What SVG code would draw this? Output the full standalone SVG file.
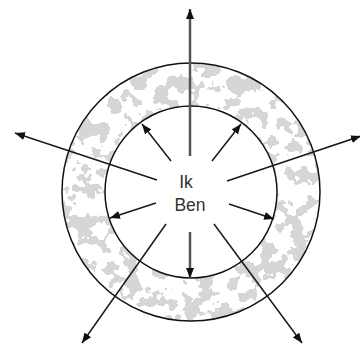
<svg xmlns="http://www.w3.org/2000/svg" width="360" height="347" viewBox="0 0 360 347">
<style>
.ln{stroke:#1a1a1a;stroke-width:1.5;fill:none}
.gl{stroke:#555;stroke-width:2.5;fill:none}
.ring{fill:none;stroke:#111;stroke-width:1.5}
.lbl{font-family:"Liberation Sans",Arial,sans-serif;font-size:17.5px;fill:#333;text-anchor:middle}
</style>
<defs>
<marker id="ah" markerWidth="10" markerHeight="8" refX="10" refY="4" orient="auto" markerUnits="userSpaceOnUse"><path d="M0,0 L10,4 L0,8 Z" fill="#111"/></marker>
<clipPath id="annulus"><path clip-rule="evenodd" fill-rule="evenodd" d="M62,192 a129,129 0 1,0 258,0 a129,129 0 1,0 -258,0 Z M105,192 a86,86 0 1,0 172,0 a86,86 0 1,0 -172,0 Z"/></clipPath>
<filter id="speck" x="0" y="0" width="100%" height="100%" filterUnits="userSpaceOnUse">
<feTurbulence type="fractalNoise" baseFrequency="0.065" numOctaves="3" seed="7" result="n"/>
<feColorMatrix in="n" type="matrix" values="0 0 0 0 0.67 0 0 0 0 0.67 0 0 0 0 0.67 1.6 0 0 0 -0.3"/>
<feComponentTransfer><feFuncA type="discrete" tableValues="0 0 0 0 0 0 0 0 0 0 0 1 1 1 1 1 1 1 1 1"/></feComponentTransfer>
</filter>
</defs>
<rect width="360" height="347" fill="#fff"/>
<g id="ring">
<g clip-path="url(#annulus)"><rect x="0" y="0" width="360" height="347" filter="url(#speck)"/></g>
<circle class="ring" cx="191" cy="192" r="129"/>
<circle class="ring" cx="191" cy="192" r="86"/>
</g>
<g id="connectors">
<line class="gl" x1="190" y1="156" x2="190" y2="9" marker-end="url(#ah)"/>
<line class="gl" x1="190" y1="232" x2="190" y2="278" marker-end="url(#ah)"/>
<line class="ln" x1="171" y1="161" x2="142" y2="124" marker-end="url(#ah)"/>
<line class="ln" x1="212" y1="161" x2="241" y2="124" marker-end="url(#ah)"/>
<line class="ln" x1="157" y1="180" x2="15" y2="133" marker-end="url(#ah)"/>
<line class="ln" x1="227" y1="181" x2="361" y2="136" marker-end="url(#ah)"/>
<line class="ln" x1="156" y1="203" x2="110" y2="218" marker-end="url(#ah)"/>
<line class="ln" x1="229" y1="204" x2="274" y2="219" marker-end="url(#ah)"/>
<line class="ln" x1="166" y1="224" x2="82" y2="343" marker-end="url(#ah)"/>
<line class="ln" x1="214" y1="224" x2="302" y2="343" marker-end="url(#ah)"/>
</g>
<g id="label">
<text class="lbl" x="186" y="188">Ik</text>
<text class="lbl" x="190" y="211">Ben</text>
</g>
</svg>
